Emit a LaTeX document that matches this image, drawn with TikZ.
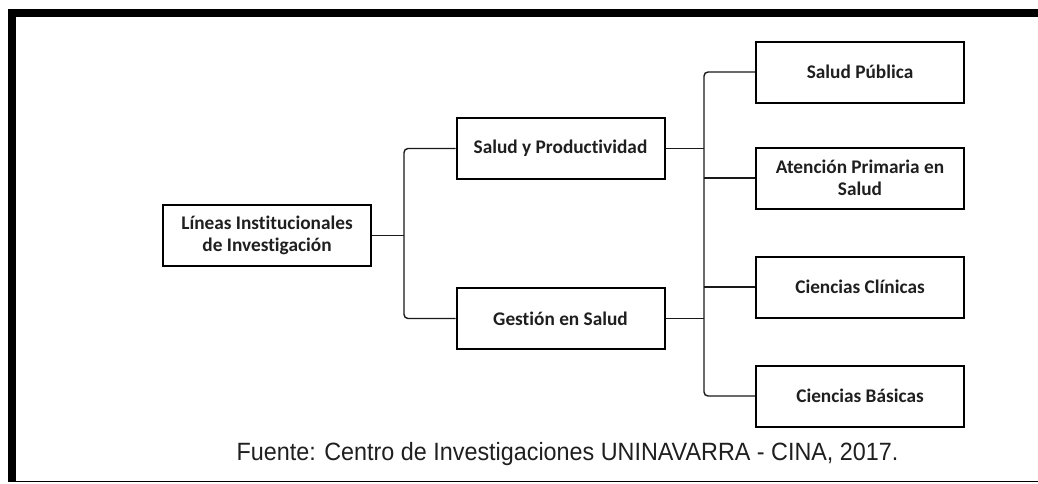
\documentclass[tikz,border=0pt]{standalone}
\usepackage{fontspec}
\setmainfont{Carlito}[Ligatures=NoCommon]
\newfontfamily\capfont{Liberation Sans}[FakeStretch=0.934]
\begin{document}
\begin{tikzpicture}[x=1pt,y=-1pt,
  box/.style={draw=black,line width=2pt,fill=white,minimum width=208pt,minimum height=61pt,
    inner sep=0pt,align=center,font=\fontsize{19.3}{22}\selectfont\bfseries,text=black!88},
  conn/.style={draw=black!90,line width=1.4pt,rounded corners=4pt},
  frame/.style={fill=black}]
\useasboundingbox (0,0) rectangle (1038,483);
% frame
\fill[black] (8,9) rectangle (16,482);
\fill[black] (8,9) rectangle (1038,17);
\fill[black] (8,480.5) rectangle (1038,482);
% bracket positions
\coordinate (b1) at (404,0);
\coordinate (b2) at (704,0);
% nodes
\node[box] (lin) at (267,235.5) {Líneas Institucionales\\de Investigación};
\node[box] (syp) at (560.5,148.5) {Salud y Productividad};
\node[box] (ges) at (560.5,318.5) {Gestión en Salud};
\node[box] (sp)  at (860,72) {Salud Pública};
\node[box] (apr) at (860,178) {Atención Primaria en\\Salud};
\node[box] (cc)  at (860,287) {Ciencias Clínicas};
\node[box] (cb)  at (860,396) {Ciencias Básicas};
% left bracket
\draw[conn] (syp.west) -- (syp.west -| b1) -- (ges.west -| b1) -- (ges.west);
\draw[conn] (lin.east) -- (lin.east -| b1);
% right bracket
\draw[conn] (sp.west) -- (sp.west -| b2) -- (cb.west -| b2) -- (cb.west);
\draw[conn] (apr.west) -- (apr.west -| b2);
\draw[conn] (cc.west) -- (cc.west -| b2);
\draw[conn] (syp.east) -- (syp.east -| b2);
\draw[conn] (ges.east) -- (ges.east -| b2);
% caption
\node[anchor=base,inner sep=0pt,font=\capfont\fontsize{25}{28}\selectfont,text=black!88] (cap) at (567.5,460)
  {Fuente: Centro de Investigaciones UNINAVARRA - CINA, 2017.};
\end{tikzpicture}
\end{document}
